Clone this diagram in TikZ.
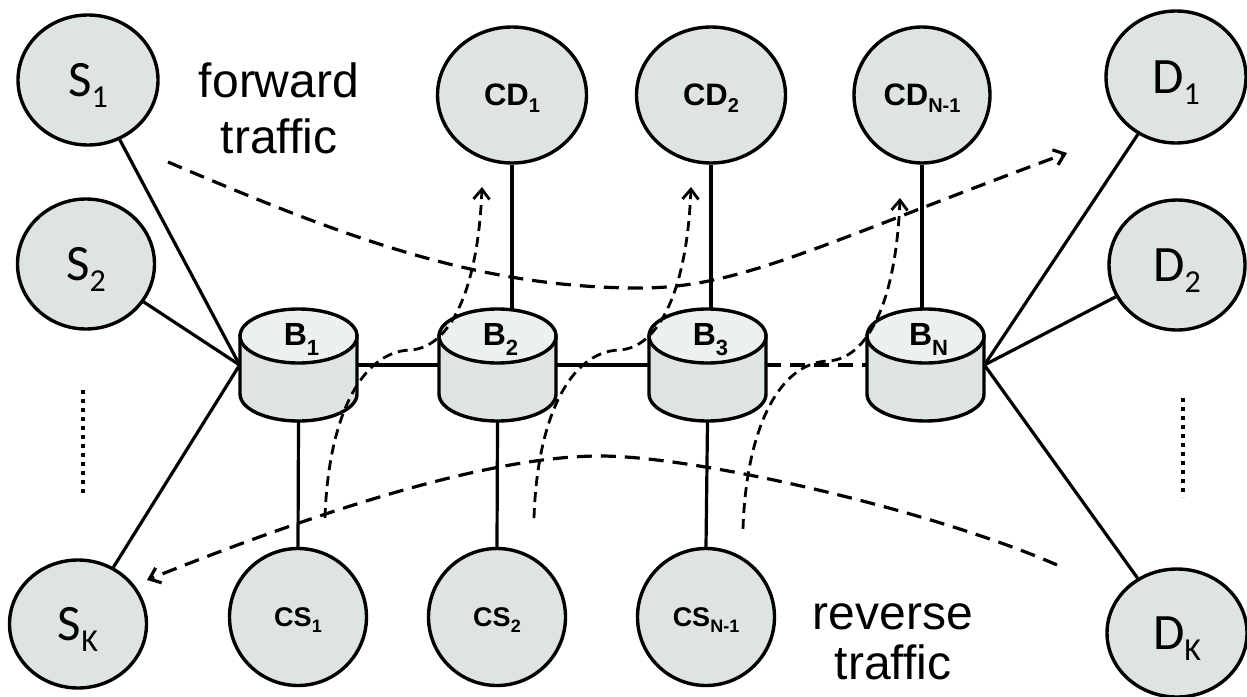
\documentclass[tikz,border=0pt]{standalone}
\usepackage{fontspec}
\setmainfont{Liberation Sans}
\newfontfamily\calfont{Carlito}
\usetikzlibrary{arrows.meta,shapes.geometric}

\definecolor{hostfill}{RGB}{221,228,227}
\definecolor{drumtop}{RGB}{236,240,240}

% labels with a lowered index
\newcommand\hostname[2]{{\calfont\fontsize{25.5}{25.5}\selectfont #1\smash{\raisebox{-5.5pt}{\fontsize{16}{16}\selectfont #2}}}}
\newcommand\cdname[2]{{\bfseries\fontsize{15.5}{15.5}\selectfont #1\smash{\raisebox{-3.5pt}{\fontsize{10}{10}\selectfont #2}}}}
\newcommand\chname[2]{{\bfseries\fontsize{13.5}{13.5}\selectfont #1\smash{\raisebox{-3pt}{\fontsize{9}{9}\selectfont #2}}}}
\newcommand\drumname[2]{{\bfseries\fontsize{16}{16}\selectfont #1\smash{\raisebox{-5pt}{\fontsize{11}{11}\selectfont #2}}}}

% a buffer drawn as a cylinder: name, centre x, letter, index
\newcommand\drum[4]{%
  \node[drumbox] (#1) at (#2,365) {};
  \path[drumline, fill=hostfill] ({#2-58.5},336) -- ({#2-58.5},394)
     arc[start angle=180, end angle=0, x radius=58.5, y radius=27]
     -- ({#2+58.5},336) -- cycle;
  \path[drumline, fill=drumtop] (#2,336) ellipse[x radius=58.5, y radius=27];
  \node[inner sep=0pt] (#1t) at ({#2+3},334) {\drumname{#3}{#4}};
}

\begin{document}
\begin{tikzpicture}[x=0.5pt, y=-0.5pt,
  host/.style={ellipse, draw, line width=1.7pt, fill=hostfill, inner sep=0pt},
  hsize/.style 2 args={minimum width=#1, minimum height=#2},
  drumbox/.style={rectangle, draw=none, inner sep=0pt, minimum width=58.5pt, minimum height=56pt},
  drumline/.style={draw, line width=1.7pt},
  link/.style={line width=1.6pt},
  linkdash/.style={line width=1.6pt, dash pattern=on 7.5pt off 4.5pt},
  flow/.style={line width=1.6pt, dash pattern=on 7.5pt off 4.5pt, -{Straight Barb[length=5pt,width=8pt]}},
  hop/.style={line width=1.4pt, dash pattern=on 5pt off 3pt, -{Straight Barb[length=5pt,width=8pt]}},
  dotrow/.style={line width=2pt, dash pattern=on 2pt off 2.5pt},
  caption/.style={align=center, inner sep=0pt}
]
\useasboundingbox (0,0) rectangle (1247,696);

% end hosts
\node[host, hsize={70pt}{65pt}] (S1) at (88,80) {\hostname{S}{1}};
\node[host, hsize={68.5pt}{65pt}] (S2) at (86,264) {\hostname{S}{2}};
\node[host, hsize={68.5pt}{64pt}] (SK) at (78,624) {\hostname{S}{K}};
\node[host, hsize={70pt}{66pt}] (D1) at (1176,77) {\hostname{D}{1}};
\node[host, hsize={68pt}{65pt}] (D2) at (1177,265) {\hostname{D}{2}};
\node[host, hsize={70pt}{64pt}] (DK) at (1177,633) {\hostname{D}{K}};

% cross traffic hosts
\node[host, hsize={74.5pt}{68pt}] (CD1) at (512,95) {\cdname{CD}{1}};
\node[host, hsize={74.5pt}{68pt}] (CD2) at (711,95) {\cdname{CD}{2}};
\node[host, hsize={68pt}{68pt}] (CDN) at (922,95) {\cdname{CD}{N-1}};
\node[host, hsize={68.5pt}{68.5pt}] (CS1) at (298,617) {\chname{CS}{1}};
\node[host, hsize={68.5pt}{68.5pt}] (CS2) at (497,617) {\chname{CS}{2}};
\node[host, hsize={68.5pt}{68.5pt}] (CSN) at (706,617) {\chname{CS}{N-1}};

% buffers
\drum{B1}{298.5}{B}{1}
\drum{B2}{497.5}{B}{2}
\drum{B3}{707.5}{B}{3}
\drum{BN}{925.5}{B}{N}

% access links
\draw[link] (S1) -- (B1.west);
\draw[link] (S2) -- (B1.west);
\draw[link] (SK) -- (B1.west);
\draw[link] (D1) -- (BN.east);
\draw[link] (D2) -- (BN.east);
\draw[link] (DK) -- (BN.east);

% links along the path
\draw[link] (B1.east) -- (B2.west);
\draw[link] (B2.east) -- (B3.west);
\draw[linkdash] (B3.east) -- (BN.west);
\draw[link] (CD1.south) -- (CD1.south |- B2.north);
\draw[link] (CD2.south) -- (CD2.south |- B3.north);
\draw[link] (CDN.south) -- (CDN.south |- BN.north);
\draw[link] (B1.south) -- (CS1.north);
\draw[link] (B2.south) -- (CS2.north);
\draw[link] (B3.south) -- (CSN.north);

% elided hosts
\draw[dotrow] (83,390) -- (83,497);
\draw[dotrow] (1183,398) -- (1183,497);

% captions
\node[caption, font=\fontsize{24}{28}\selectfont, anchor=north] (fwd) at (279,62) {forward\\traffic};
\node[caption, font=\fontsize{24}{25}\selectfont, anchor=north] (rev) at (893,603) {reverse\\traffic};

% forward and reverse flows
\coordinate (f0) at (168,162);
\coordinate (fm) at (640,288);
\coordinate (f1) at (1067,153);
\draw[flow] (f0) .. controls (348,239) and (480,288) .. (fm)
                 .. controls (740,288) and (817,245.5) .. (f1);
\coordinate (r0) at (1057,565);
\coordinate (rm) at (600,456);
\coordinate (r1) at (147,580);
\draw[flow] (r0) .. controls (937,512) and (700,456) .. (rm)
                 .. controls (480,456) and (297,520) .. (r1);

% cross traffic entering and leaving the path
\foreach \dx/\dy/\k in {0/0/1, 209/0/2, 418/11/3} {
  \begin{scope}[shift={(\dx,\dy)}]
    \coordinate (h\k a) at (325,518);
    \coordinate (h\k m) at (410,350);
    \coordinate (h\k b) at (482,187);
    \draw[hop] (h\k a) .. controls (328,420) and (360,352) .. (h\k m)
                       .. controls (450,348) and (478,290) .. (h\k b);
  \end{scope}
}
\end{tikzpicture}
\end{document}
